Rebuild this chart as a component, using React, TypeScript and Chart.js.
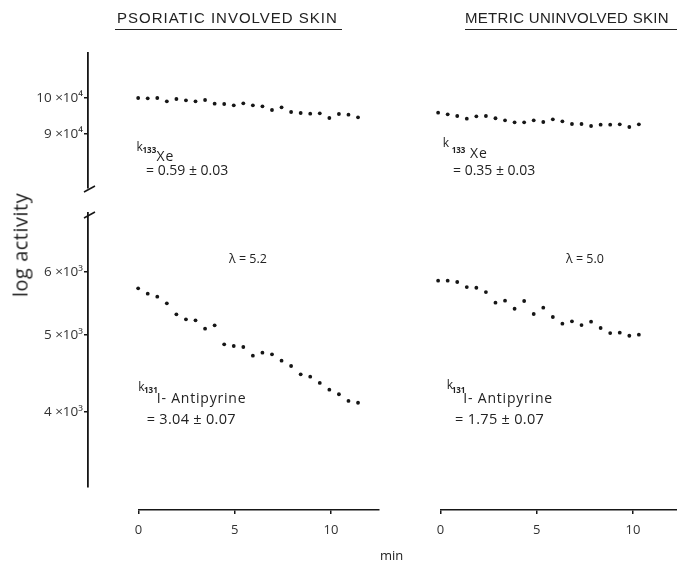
import React, { useEffect, useRef } from 'react';
import { Chart, registerables } from 'chart.js';
Chart.register(...registerables);

// ---- data ----
const leftTimes = [0, 0.5, 1, 1.5, 2, 2.5, 3, 3.5, 4, 4.5, 5, 5.5, 6, 6.5, 7, 7.5, 8, 8.5, 9, 9.5, 10, 10.5, 11, 11.5];
const rightTimes = [0, 0.5, 1, 1.5, 2, 2.5, 3, 3.5, 4, 4.5, 5, 5.5, 6, 6.5, 7, 7.5, 8, 8.5, 9, 9.5, 10, 10.5];
const leftXe = [100000, 99900, 100000, 99040, 99710, 99330, 99040, 99420, 98340, 98260, 97890, 98460, 97890, 97600, 96550, 97310, 95990, 95710, 95510, 95620, 94310, 95430, 95230, 94510];
const rightXe = [95790, 95340, 94870, 94130, 94790, 94870, 94240, 93690, 93140, 93140, 93690, 93220, 93960, 93410, 92680, 92680, 92140, 92490, 92490, 92600, 91870, 92600];
const leftAntipyrine = [5723, 5635, 5586, 5480, 5308, 5232, 5217, 5092, 5142, 4867, 4843, 4829, 4709, 4750, 4728, 4641, 4570, 4462, 4431, 4351, 4267, 4211, 4130, 4109];
const rightAntipyrine = [5851, 5851, 5829, 5745, 5733, 5662, 5490, 5522, 5395, 5517, 5313, 5411, 5267, 5166, 5202, 5146, 5196, 5102, 5028, 5033, 4989, 5004];
const xTicks = [0, 5, 10];
const xeTicks = [90000, 100000];
const antiTicks = [4000, 5000, 6000];

const OPEN = '"Open Sans", "DejaVu Sans", sans-serif';
const LIB = '"Liberation Sans", Arial, sans-serif';
const INK = '#161616';
const W = 677;
const H = 564;

const tickFont = { family: OPEN, size: 13.5 };

function baseOptions(padding: any) {
  return {
    animation: false,
    responsive: false,
    maintainAspectRatio: false,
    devicePixelRatio: 1,
    events: [],
    layout: { padding },
    plugins: { legend: { display: false }, tooltip: { enabled: false }, title: { display: false } },
  };
}

function pts(times: number[], vals: number[]) {
  return times.map((t, i) => ({ x: t, y: vals[i] }));
}

const dotStyle = {
  pointRadius: 1.9,
  pointBackgroundColor: INK,
  pointBorderWidth: 0,
  showLine: false,
};

const hiddenX = {
  xL: { type: 'linear', display: false, position: 'bottom', min: -2.6234, max: 27.974 },
  xR: { type: 'linear', display: false, position: 'bottom', min: -18.312, max: 12.285 },
};

function yAxis(min: number, max: number, ticks: number[], label: (v: number) => string) {
  return {
    type: 'logarithmic',
    position: 'left',
    min,
    max,
    afterFit: (s: any) => { s.width = 88; },
    afterBuildTicks: (s: any) => { s.ticks = ticks.map((v) => ({ value: v })); },
    ticks: { callback: (v: any) => label(Number(v)), font: tickFont, color: '#333', padding: 1, autoSkip: false },
    grid: { drawOnChartArea: false, drawTicks: true, tickLength: 4, color: INK, lineWidth: 1.5 },
    border: { display: true, color: INK, width: 1.8 },
  };
}

function breakPlugin(where: 'top' | 'bottom') {
  return {
    id: 'break-' + where,
    afterDraw(chart: any) {
      const { ctx, chartArea } = chart;
      const x = chartArea.left;
      ctx.save();
      ctx.strokeStyle = INK;
      ctx.lineWidth = 1.5;
      ctx.beginPath();
      if (where === 'bottom') {
        ctx.moveTo(x - 4, chartArea.bottom + 4);
        ctx.lineTo(x + 7, chartArea.bottom - 2);
      } else {
        ctx.moveTo(x - 4, chartArea.top + 5);
        ctx.lineTo(x + 7, chartArea.top - 1);
      }
      ctx.stroke();
      ctx.restore();
    },
  };
}

function xAxisConfig(left: number, right: number, max: number) {
  return {
    type: 'scatter',
    data: { datasets: [] },
    options: {
      ...baseOptions({ left, right, top: 400, bottom: 0 }),
      scales: {
        x: {
          type: 'linear',
          position: 'bottom',
          min: 0,
          max,
          afterFit: (s: any) => { s.height = 54; },
          afterBuildTicks: (s: any) => { s.ticks = xTicks.map((v) => ({ value: v })); },
          ticks: { font: { family: OPEN, size: 13 }, color: '#333', padding: 8, autoSkip: false, maxRotation: 0 },
          grid: { drawOnChartArea: false, drawTicks: true, tickLength: 4, color: INK, lineWidth: 1.5 },
          border: { display: true, color: INK, width: 1.6 },
        },
        y: { display: false, min: 0, max: 1 },
      },
    },
  };
}

function T(props: { x: number; b: number; size: number; font?: string; weight?: number; ls?: number; children: any }) {
  const font = props.font || OPEN;
  const asc = font === LIB ? 0.8465 : 0.888;
  return (
    <div
      style={{
        position: 'absolute',
        left: props.x,
        top: props.b - asc * props.size,
        fontSize: props.size,
        lineHeight: `${props.size}px`,
        fontFamily: font,
        fontWeight: props.weight || 400,
        letterSpacing: props.ls || 0,
        whiteSpace: 'nowrap',
        color: '#222',
      }}
    >
      {props.children}
    </div>
  );
}

export default function App() {
  const topRef = useRef<HTMLCanvasElement>(null);
  const botRef = useRef<HTMLCanvasElement>(null);
  const xlRef = useRef<HTMLCanvasElement>(null);
  const xrRef = useRef<HTMLCanvasElement>(null);

  useEffect(() => {
    const charts: Chart[] = [];
    const topCfg: any = {
      type: 'scatter',
      data: {
        datasets: [
          { data: pts(leftTimes, leftXe), xAxisID: 'xL', yAxisID: 'y', ...dotStyle },
          { data: pts(rightTimes, rightXe), xAxisID: 'xR', yAxisID: 'y', ...dotStyle },
        ],
      },
      options: {
        ...baseOptions({ left: 0, right: 0, top: 53, bottom: H - 188 }),
        scales: {
          ...hiddenX,
          y: yAxis(76850, 114070, xeTicks, (v) => `${Math.round(v / 1e4)} ×10⁴`),
        },
      },
      plugins: [breakPlugin('bottom')],
    };
    const botCfg: any = {
      type: 'scatter',
      data: {
        datasets: [
          { data: pts(leftTimes, leftAntipyrine), xAxisID: 'xL', yAxisID: 'y', ...dotStyle },
          { data: pts(rightTimes, rightAntipyrine), xAxisID: 'xR', yAxisID: 'y', ...dotStyle },
        ],
      },
      options: {
        ...baseOptions({ left: 0, right: 0, top: 213, bottom: H - 487 }),
        scales: {
          ...hiddenX,
          y: yAxis(3219, 7119, antiTicks, (v) => `${Math.round(v / 1e3)} ×10³`),
        },
      },
      plugins: [breakPlugin('top')],
    };
    if (topRef.current) charts.push(new Chart(topRef.current, topCfg));
    if (botRef.current) charts.push(new Chart(botRef.current, botCfg));
    if (xlRef.current) charts.push(new Chart(xlRef.current, xAxisConfig(138.5, W - 379, 12.49) as any));
    if (xrRef.current) charts.push(new Chart(xrRef.current, xAxisConfig(440.5, 0, 12.29) as any));
    return () => charts.forEach((c) => c.destroy());
  }, []);

  const cv = { position: 'absolute' as const, left: 0, top: 0, width: W, height: H };

  return (
    <div style={{ position: 'fixed', left: 0, top: 0, width: W, height: H, background: '#fff', overflow: 'hidden' }}>
      <canvas ref={topRef} width={W} height={H} style={cv} />
      <canvas ref={botRef} width={W} height={H} style={cv} />
      <canvas ref={xlRef} width={W} height={H} style={cv} />
      <canvas ref={xrRef} width={W} height={H} style={cv} />

      {/* panel titles */}
      <T x={117} b={22.7} size={15} font={LIB} ls={1}>PSORIATIC INVOLVED SKIN</T>
      <div style={{ position: 'absolute', left: 115, top: 28.5, width: 227, borderTop: '1.5px solid #222' }} />
      <T x={465} b={22.7} size={15} font={LIB} ls={0.3}>METRIC UNINVOLVED SKIN</T>
      <div style={{ position: 'absolute', left: 465, top: 28.5, width: 212, borderTop: '1.5px solid #222' }} />

      {/* y axis title */}
      <div
        style={{
          position: 'absolute',
          left: 20,
          top: 245,
          transform: 'translate(-50%, -50%) rotate(-90deg)',
          fontFamily: OPEN,
          fontSize: 20,
          letterSpacing: 0.5,
          whiteSpace: 'nowrap',
          color: '#222',
        }}
      >
        log activity
      </div>

      {/* left Xe annotation */}
      <T x={136.5} b={152} size={12}>k</T>
      <T x={142.5} b={153.5} size={8} weight={700}>133</T>
      <T x={156.5} b={161} size={14} ls={1}>Xe</T>
      <T x={146} b={175} size={14}>= 0.59 ± 0.03</T>

      {/* right Xe annotation */}
      <T x={442.7} b={148} size={12}>k</T>
      <T x={451.7} b={153} size={8} weight={700}>133</T>
      <T x={470} b={158} size={14} ls={1}>Xe</T>
      <T x={453} b={175} size={14}>= 0.35 ± 0.03</T>

      {/* lambda */}
      <T x={229} b={264} size={12.5}>λ = 5.2</T>
      <T x={566} b={264} size={12.5}>λ = 5.0</T>

      {/* left antipyrine annotation */}
      <T x={138.3} b={391.7} size={12}>k</T>
      <T x={144} b={393.3} size={8} weight={700}>131</T>
      <T x={156.7} b={403.3} size={14} ls={0.8}>I- Antipyrine</T>
      <T x={146.7} b={425} size={14.5} ls={0.3}>= 3.04 ± 0.07</T>

      {/* right antipyrine annotation */}
      <T x={446.7} b={390} size={12}>k</T>
      <T x={451.7} b={393} size={8} weight={700}>131</T>
      <T x={463.3} b={403.3} size={14} ls={0.8}>I- Antipyrine</T>
      <T x={455} b={425} size={14.5} ls={0.3}>= 1.75 ± 0.07</T>

      {/* x axis title */}
      <T x={380} b={561} size={13}>min</T>
    </div>
  );
}
